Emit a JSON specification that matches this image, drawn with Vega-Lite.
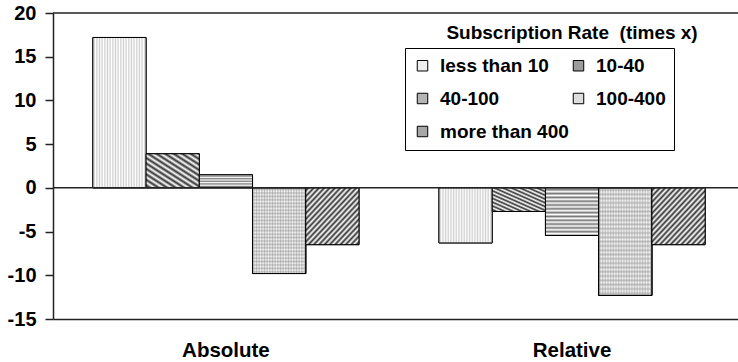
{
  "$schema": "https://vega.github.io/schema/vega-lite/v6.json",
  "width": 685,
  "height": 306,
  "autosize": {"type": "none"},
  "padding": {"left": 53, "top": 13, "right": 0, "bottom": 43},
  "background": "white",
  "config": {
    "view": {"stroke": null},
    "font": "Liberation Sans"
  },
  "data": {
    "values": [
      {"group": "Absolute", "rate": "less than 10", "value": 17.2},
      {"group": "Absolute", "rate": "10-40", "value": 3.9},
      {"group": "Absolute", "rate": "40-100", "value": 1.5},
      {"group": "Absolute", "rate": "100-400", "value": -9.8},
      {"group": "Absolute", "rate": "more than 400", "value": -6.5},
      {"group": "Relative", "rate": "less than 10", "value": -6.3},
      {"group": "Relative", "rate": "10-40", "value": -2.7},
      {"group": "Relative", "rate": "40-100", "value": -5.45},
      {"group": "Relative", "rate": "100-400", "value": -12.3},
      {"group": "Relative", "rate": "more than 400", "value": -6.5}
    ]
  },
  "layer": [
    {
      "encoding": {
        "x": {
          "field": "group",
          "type": "nominal",
          "scale": {"paddingInner": 0.231, "paddingOuter": 0.105, "align": 0.548},
          "axis": {
            "title": null,
            "labelAngle": 0,
            "ticks": false,
            "domain": true,
            "domainColor": "#222",
            "domainWidth": 1.5,
            "labelFont": "Liberation Sans",
            "labelFontWeight": "bold",
            "labelFontSize": 20.5,
            "labelColor": "black",
            "labelPadding": 21
          }
        },
        "xOffset": {
          "field": "rate",
          "type": "nominal",
          "sort": ["less than 10", "10-40", "40-100", "100-400", "more than 400"],
          "scale": {"paddingInner": 0, "paddingOuter": 0}
        },
        "y": {
          "field": "value",
          "type": "quantitative",
          "scale": {"domain": [-15, 20], "nice": false},
          "axis": {
            "title": null,
            "values": [-15, -10, -5, 0, 5, 10, 15, 20],
            "grid": false,
            "domainColor": "#222",
            "domainWidth": 1.5,
            "tickColor": "#222",
            "tickSize": 8,
            "tickWidth": 1.5,
            "labelPadding": 9,
            "labelFont": "Liberation Sans",
            "labelFontWeight": "bold",
            "labelFontSize": 20,
            "labelColor": "black",
            "labelExpr": "'' + datum.value"
          }
        }
      },
      "layer": [
        {
          "mark": {"type": "bar", "stroke": "black", "strokeWidth": 1},
          "encoding": {
            "fill": {
              "field": "rate",
              "type": "nominal",
              "scale": {
                "domain": ["less than 10", "40-100", "more than 400", "10-40", "100-400"],
                "range": ["#eeeeee", "#b4b4b4", "#a6a6a6", "#9c9c9c", "#dedede"]
              },
              "legend": {
                "title": null,
                "orient": "none",
                "legendX": 352,
                "legendY": 35,
                "columns": 2,
                "gridAlign": "each",
                "columnPadding": 0,
                "rowPadding": 13,
                "padding": 8,
                "strokeColor": "black",
                "symbolType": "square",
                "symbolSize": 110,
                "symbolStrokeColor": "black",
                "symbolStrokeWidth": 1,
                "symbolOpacity": 1,
                "labelFont": "Liberation Sans",
                "labelFontWeight": "bold",
                "labelFontSize": 19,
                "labelColor": "black",
                "labelOffset": 8,
                "labelLimit": 300,
                "labelExpr": "datum.label === '100-400' ? datum.label + '\u00a0\u00a0\u00a0\u00a0\u00a0\u00a0\u00a0\u00a0\u00a0' : datum.label"
              }
            }
          }
        },
        {
          "transform": [{"filter": "datum.rate === 'less than 10'"}],
          "mark": {"type": "bar", "stroke": "black", "strokeWidth": 1,
            "fill": {"gradient": "linear", "x1": 0, "y1": 0, "x2": 1, "y2": 0, "stops": [
              {"offset": 0, "color": "#ffffff"}, {"offset": 0.025, "color": "#d0d0d0"}, {"offset": 0.05, "color": "#ffffff"}, {"offset": 0.075, "color": "#d0d0d0"},
              {"offset": 0.1, "color": "#ffffff"}, {"offset": 0.125, "color": "#d0d0d0"}, {"offset": 0.15, "color": "#ffffff"}, {"offset": 0.175, "color": "#d0d0d0"},
              {"offset": 0.2, "color": "#ffffff"}, {"offset": 0.225, "color": "#d0d0d0"}, {"offset": 0.25, "color": "#ffffff"}, {"offset": 0.275, "color": "#d0d0d0"},
              {"offset": 0.3, "color": "#ffffff"}, {"offset": 0.325, "color": "#d0d0d0"}, {"offset": 0.35, "color": "#ffffff"}, {"offset": 0.375, "color": "#d0d0d0"},
              {"offset": 0.4, "color": "#ffffff"}, {"offset": 0.425, "color": "#d0d0d0"}, {"offset": 0.45, "color": "#ffffff"}, {"offset": 0.475, "color": "#d0d0d0"},
              {"offset": 0.5, "color": "#ffffff"}, {"offset": 0.525, "color": "#d0d0d0"}, {"offset": 0.55, "color": "#ffffff"}, {"offset": 0.575, "color": "#d0d0d0"},
              {"offset": 0.6, "color": "#ffffff"}, {"offset": 0.625, "color": "#d0d0d0"}, {"offset": 0.65, "color": "#ffffff"}, {"offset": 0.675, "color": "#d0d0d0"},
              {"offset": 0.7, "color": "#ffffff"}, {"offset": 0.725, "color": "#d0d0d0"}, {"offset": 0.75, "color": "#ffffff"}, {"offset": 0.775, "color": "#d0d0d0"},
              {"offset": 0.8, "color": "#ffffff"}, {"offset": 0.825, "color": "#d0d0d0"}, {"offset": 0.85, "color": "#ffffff"}, {"offset": 0.875, "color": "#d0d0d0"},
              {"offset": 0.9, "color": "#ffffff"}, {"offset": 0.925, "color": "#d0d0d0"}, {"offset": 0.95, "color": "#ffffff"}, {"offset": 0.975, "color": "#d0d0d0"},
              {"offset": 1, "color": "#ffffff"}
            ]}
          }
        },
        {
          "transform": [{"filter": "datum.rate === '10-40'"}],
          "mark": {"type": "bar", "stroke": "black", "strokeWidth": 1,
            "fill": {"gradient": "linear", "x1": 0, "y1": 1, "x2": 1, "y2": 0, "stops": [
              {"offset": 0, "color": "#ffffff"}, {"offset": 0.04, "color": "#333333"}, {"offset": 0.08, "color": "#ffffff"}, {"offset": 0.12, "color": "#333333"},
              {"offset": 0.16, "color": "#ffffff"}, {"offset": 0.2, "color": "#333333"}, {"offset": 0.24, "color": "#ffffff"}, {"offset": 0.28, "color": "#333333"},
              {"offset": 0.32, "color": "#ffffff"}, {"offset": 0.36, "color": "#333333"}, {"offset": 0.4, "color": "#ffffff"}, {"offset": 0.44, "color": "#333333"},
              {"offset": 0.48, "color": "#ffffff"}, {"offset": 0.52, "color": "#333333"}, {"offset": 0.56, "color": "#ffffff"}, {"offset": 0.6, "color": "#333333"},
              {"offset": 0.64, "color": "#ffffff"}, {"offset": 0.68, "color": "#333333"}, {"offset": 0.72, "color": "#ffffff"}, {"offset": 0.76, "color": "#333333"},
              {"offset": 0.8, "color": "#ffffff"}, {"offset": 0.84, "color": "#333333"}, {"offset": 0.88, "color": "#ffffff"}, {"offset": 0.92, "color": "#333333"},
              {"offset": 0.96, "color": "#ffffff"}, {"offset": 1, "color": "#333333"}
            ]}
          }
        },
        {
          "transform": [{"filter": "datum.rate === '40-100' && datum.group === 'Absolute'"}],
          "mark": {"type": "bar", "stroke": "black", "strokeWidth": 1,
            "fill": {"gradient": "linear", "x1": 0, "y1": 0, "x2": 0, "y2": 1, "stops": [
              {"offset": 0, "color": "#ffffff"}, {"offset": 0.1, "color": "#777777"}, {"offset": 0.2, "color": "#ffffff"}, {"offset": 0.3, "color": "#777777"},
              {"offset": 0.4, "color": "#ffffff"}, {"offset": 0.5, "color": "#777777"}, {"offset": 0.6, "color": "#ffffff"}, {"offset": 0.7, "color": "#777777"},
              {"offset": 0.8, "color": "#ffffff"}, {"offset": 0.9, "color": "#777777"}, {"offset": 1, "color": "#ffffff"}
            ]}
          }
        },
        {
          "transform": [{"filter": "datum.rate === '40-100' && datum.group === 'Relative'"}],
          "mark": {"type": "bar", "stroke": "black", "strokeWidth": 1,
            "fill": {"gradient": "linear", "x1": 0, "y1": 0, "x2": 0, "y2": 1, "stops": [
              {"offset": 0, "color": "#ffffff"}, {"offset": 0.04, "color": "#777777"}, {"offset": 0.08, "color": "#ffffff"}, {"offset": 0.12, "color": "#777777"},
              {"offset": 0.16, "color": "#ffffff"}, {"offset": 0.2, "color": "#777777"}, {"offset": 0.24, "color": "#ffffff"}, {"offset": 0.28, "color": "#777777"},
              {"offset": 0.32, "color": "#ffffff"}, {"offset": 0.36, "color": "#777777"}, {"offset": 0.4, "color": "#ffffff"}, {"offset": 0.44, "color": "#777777"},
              {"offset": 0.48, "color": "#ffffff"}, {"offset": 0.52, "color": "#777777"}, {"offset": 0.56, "color": "#ffffff"}, {"offset": 0.6, "color": "#777777"},
              {"offset": 0.64, "color": "#ffffff"}, {"offset": 0.68, "color": "#777777"}, {"offset": 0.72, "color": "#ffffff"}, {"offset": 0.76, "color": "#777777"},
              {"offset": 0.8, "color": "#ffffff"}, {"offset": 0.84, "color": "#777777"}, {"offset": 0.88, "color": "#ffffff"}, {"offset": 0.92, "color": "#777777"},
              {"offset": 0.96, "color": "#ffffff"}, {"offset": 1, "color": "#777777"}
            ]}
          }
        },
        {
          "transform": [{"filter": "datum.rate === '100-400'"}],
          "mark": {"type": "bar", "stroke": "black", "strokeWidth": 1,
            "fill": {"gradient": "linear", "x1": 0, "y1": 0, "x2": 1, "y2": 0, "stops": [
              {"offset": 0, "color": "#ffffff"}, {"offset": 0.025, "color": "#c8c8c8"}, {"offset": 0.05, "color": "#ffffff"}, {"offset": 0.075, "color": "#c8c8c8"},
              {"offset": 0.1, "color": "#ffffff"}, {"offset": 0.125, "color": "#c8c8c8"}, {"offset": 0.15, "color": "#ffffff"}, {"offset": 0.175, "color": "#c8c8c8"},
              {"offset": 0.2, "color": "#ffffff"}, {"offset": 0.225, "color": "#c8c8c8"}, {"offset": 0.25, "color": "#ffffff"}, {"offset": 0.275, "color": "#c8c8c8"},
              {"offset": 0.3, "color": "#ffffff"}, {"offset": 0.325, "color": "#c8c8c8"}, {"offset": 0.35, "color": "#ffffff"}, {"offset": 0.375, "color": "#c8c8c8"},
              {"offset": 0.4, "color": "#ffffff"}, {"offset": 0.425, "color": "#c8c8c8"}, {"offset": 0.45, "color": "#ffffff"}, {"offset": 0.475, "color": "#c8c8c8"},
              {"offset": 0.5, "color": "#ffffff"}, {"offset": 0.525, "color": "#c8c8c8"}, {"offset": 0.55, "color": "#ffffff"}, {"offset": 0.575, "color": "#c8c8c8"},
              {"offset": 0.6, "color": "#ffffff"}, {"offset": 0.625, "color": "#c8c8c8"}, {"offset": 0.65, "color": "#ffffff"}, {"offset": 0.675, "color": "#c8c8c8"},
              {"offset": 0.7, "color": "#ffffff"}, {"offset": 0.725, "color": "#c8c8c8"}, {"offset": 0.75, "color": "#ffffff"}, {"offset": 0.775, "color": "#c8c8c8"},
              {"offset": 0.8, "color": "#ffffff"}, {"offset": 0.825, "color": "#c8c8c8"}, {"offset": 0.85, "color": "#ffffff"}, {"offset": 0.875, "color": "#c8c8c8"},
              {"offset": 0.9, "color": "#ffffff"}, {"offset": 0.925, "color": "#c8c8c8"}, {"offset": 0.95, "color": "#ffffff"}, {"offset": 0.975, "color": "#c8c8c8"},
              {"offset": 1, "color": "#ffffff"}
            ]}
          }
        },
        {
          "transform": [{"filter": "datum.rate === '100-400'"}],
          "mark": {"type": "bar", "stroke": "black", "strokeWidth": 1,
            "fill": {"gradient": "linear", "x1": 0, "y1": 0, "x2": 0, "y2": 1, "stops": [
              {"offset": 0, "color": "rgba(140,140,140,0)"}, {"offset": 0.02, "color": "rgba(140,140,140,0.5)"}, {"offset": 0.04, "color": "rgba(140,140,140,0)"}, {"offset": 0.06, "color": "rgba(140,140,140,0.5)"},
              {"offset": 0.08, "color": "rgba(140,140,140,0)"}, {"offset": 0.1, "color": "rgba(140,140,140,0.5)"}, {"offset": 0.12, "color": "rgba(140,140,140,0)"}, {"offset": 0.14, "color": "rgba(140,140,140,0.5)"},
              {"offset": 0.16, "color": "rgba(140,140,140,0)"}, {"offset": 0.18, "color": "rgba(140,140,140,0.5)"}, {"offset": 0.2, "color": "rgba(140,140,140,0)"}, {"offset": 0.22, "color": "rgba(140,140,140,0.5)"},
              {"offset": 0.24, "color": "rgba(140,140,140,0)"}, {"offset": 0.26, "color": "rgba(140,140,140,0.5)"}, {"offset": 0.28, "color": "rgba(140,140,140,0)"}, {"offset": 0.3, "color": "rgba(140,140,140,0.5)"},
              {"offset": 0.32, "color": "rgba(140,140,140,0)"}, {"offset": 0.34, "color": "rgba(140,140,140,0.5)"}, {"offset": 0.36, "color": "rgba(140,140,140,0)"}, {"offset": 0.38, "color": "rgba(140,140,140,0.5)"},
              {"offset": 0.4, "color": "rgba(140,140,140,0)"}, {"offset": 0.42, "color": "rgba(140,140,140,0.5)"}, {"offset": 0.44, "color": "rgba(140,140,140,0)"}, {"offset": 0.46, "color": "rgba(140,140,140,0.5)"},
              {"offset": 0.48, "color": "rgba(140,140,140,0)"}, {"offset": 0.5, "color": "rgba(140,140,140,0.5)"}, {"offset": 0.52, "color": "rgba(140,140,140,0)"}, {"offset": 0.54, "color": "rgba(140,140,140,0.5)"},
              {"offset": 0.56, "color": "rgba(140,140,140,0)"}, {"offset": 0.58, "color": "rgba(140,140,140,0.5)"}, {"offset": 0.6, "color": "rgba(140,140,140,0)"}, {"offset": 0.62, "color": "rgba(140,140,140,0.5)"},
              {"offset": 0.64, "color": "rgba(140,140,140,0)"}, {"offset": 0.66, "color": "rgba(140,140,140,0.5)"}, {"offset": 0.68, "color": "rgba(140,140,140,0)"}, {"offset": 0.7, "color": "rgba(140,140,140,0.5)"},
              {"offset": 0.72, "color": "rgba(140,140,140,0)"}, {"offset": 0.74, "color": "rgba(140,140,140,0.5)"}, {"offset": 0.76, "color": "rgba(140,140,140,0)"}, {"offset": 0.78, "color": "rgba(140,140,140,0.5)"},
              {"offset": 0.8, "color": "rgba(140,140,140,0)"}, {"offset": 0.82, "color": "rgba(140,140,140,0.5)"}, {"offset": 0.84, "color": "rgba(140,140,140,0)"}, {"offset": 0.86, "color": "rgba(140,140,140,0.5)"},
              {"offset": 0.88, "color": "rgba(140,140,140,0)"}, {"offset": 0.9, "color": "rgba(140,140,140,0.5)"}, {"offset": 0.92, "color": "rgba(140,140,140,0)"}, {"offset": 0.94, "color": "rgba(140,140,140,0.5)"},
              {"offset": 0.96, "color": "rgba(140,140,140,0)"}, {"offset": 0.98, "color": "rgba(140,140,140,0.5)"}, {"offset": 1, "color": "rgba(140,140,140,0)"}
            ]}
          }
        },
        {
          "transform": [{"filter": "datum.rate === 'more than 400'"}],
          "mark": {"type": "bar", "stroke": "black", "strokeWidth": 1,
            "fill": {"gradient": "linear", "x1": 0, "y1": 0, "x2": 1, "y2": 1, "stops": [
              {"offset": 0, "color": "#ffffff"}, {"offset": 0.025, "color": "#333333"}, {"offset": 0.05, "color": "#ffffff"}, {"offset": 0.075, "color": "#333333"},
              {"offset": 0.1, "color": "#ffffff"}, {"offset": 0.125, "color": "#333333"}, {"offset": 0.15, "color": "#ffffff"}, {"offset": 0.175, "color": "#333333"},
              {"offset": 0.2, "color": "#ffffff"}, {"offset": 0.225, "color": "#333333"}, {"offset": 0.25, "color": "#ffffff"}, {"offset": 0.275, "color": "#333333"},
              {"offset": 0.3, "color": "#ffffff"}, {"offset": 0.325, "color": "#333333"}, {"offset": 0.35, "color": "#ffffff"}, {"offset": 0.375, "color": "#333333"},
              {"offset": 0.4, "color": "#ffffff"}, {"offset": 0.425, "color": "#333333"}, {"offset": 0.45, "color": "#ffffff"}, {"offset": 0.475, "color": "#333333"},
              {"offset": 0.5, "color": "#ffffff"}, {"offset": 0.525, "color": "#333333"}, {"offset": 0.55, "color": "#ffffff"}, {"offset": 0.575, "color": "#333333"},
              {"offset": 0.6, "color": "#ffffff"}, {"offset": 0.625, "color": "#333333"}, {"offset": 0.65, "color": "#ffffff"}, {"offset": 0.675, "color": "#333333"},
              {"offset": 0.7, "color": "#ffffff"}, {"offset": 0.725, "color": "#333333"}, {"offset": 0.75, "color": "#ffffff"}, {"offset": 0.775, "color": "#333333"},
              {"offset": 0.8, "color": "#ffffff"}, {"offset": 0.825, "color": "#333333"}, {"offset": 0.85, "color": "#ffffff"}, {"offset": 0.875, "color": "#333333"},
              {"offset": 0.9, "color": "#ffffff"}, {"offset": 0.925, "color": "#333333"}, {"offset": 0.95, "color": "#ffffff"}, {"offset": 0.975, "color": "#333333"},
              {"offset": 1, "color": "#ffffff"}
            ]}
          }
        }
      ]
    },
    {
      "data": {"values": [{"v": 0}, {"v": 20}]},
      "mark": {"type": "rule", "color": "#222", "strokeWidth": 1.5},
      "encoding": {"y": {"field": "v", "type": "quantitative"}}
    },
    {
      "data": {"values": [{"label": "Subscription Rate\u00a0 (times x)", "group": "Relative", "v": 17.7}]},
      "mark": {"type": "text", "font": "Liberation Sans", "fontWeight": "bold", "fontSize": 19, "baseline": "middle", "align": "center", "color": "black"},
      "encoding": {
        "x": {"field": "group", "type": "nominal"},
        "y": {"field": "v", "type": "quantitative"},
        "text": {"field": "label"}
      }
    }
  ]
}
